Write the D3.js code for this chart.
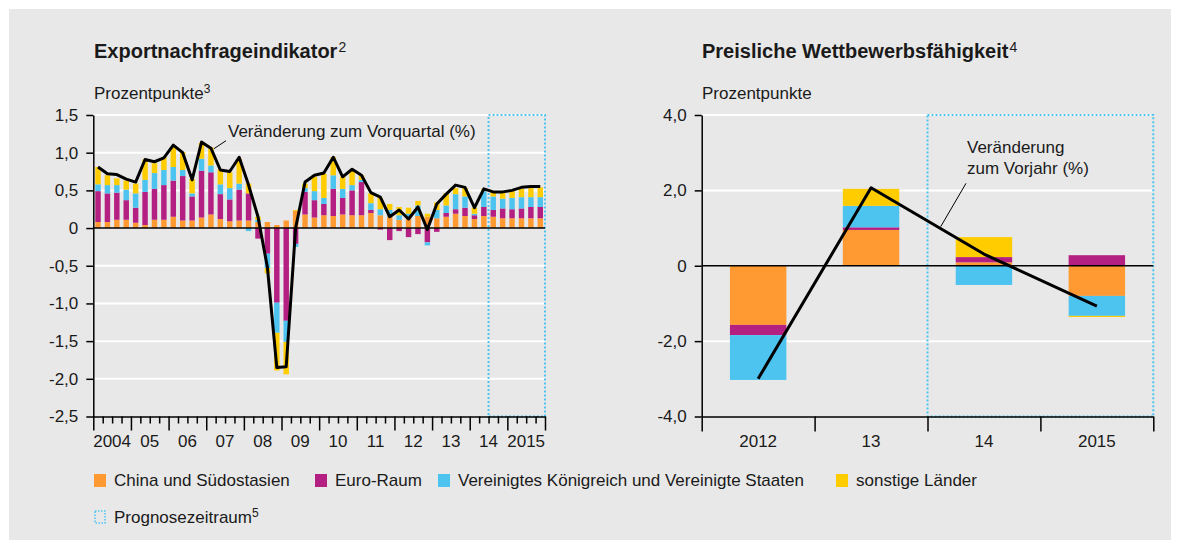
<!DOCTYPE html>
<html>
<head>
<meta charset="utf-8">
<script src="https://cdn.jsdelivr.net/npm/d3@7"></script>
<style>
body { margin: 0; background: #fff; }
svg text { font-family: "Liberation Sans", Arial, sans-serif; fill: #1a1a1a; }
.axis text { font-size: 17px; fill: #1a1a1a; }
.axis path, .axis line { stroke: #000; stroke-width: 1.5; }
</style>
</head>
<body>
<div id="chart"></div>
<script>
// Exportnachfrageindikator, Quartale 2004 bis 2015
var years = ["2004", "2005", "2006", "2007", "2008", "2009", "2010", "2011", "2012", "2013", "2014", "2015"];
var yearLabels = ["2004", "05", "06", "07", "08", "09", "10", "11", "12", "13", "14", "2015"];
var china = [0.08, 0.08, 0.11, 0.11, 0.07, 0.04, 0.11, 0.11, 0.15, 0.10, 0.10, 0.14,
             0.18, 0.12, 0.09, 0.10, 0.10, 0.08, 0.08, 0.04, 0.10, 0.23, 0.18, 0.14,
             0.17, 0.16, 0.18, 0.17, 0.17, 0.20, 0.17, 0.15, 0.11, 0.14, 0.16, 0.15,
             0.13, 0.15, 0.19, 0.16, 0.12, 0.16, 0.15, 0.13, 0.13, 0.13, 0.13, 0.13];
var euro = [0.41, 0.38, 0.36, 0.26, 0.20, 0.44, 0.41, 0.46, 0.48, 0.59, 0.32, 0.62,
            0.56, 0.33, 0.29, 0.41, 0.36, -0.14, -0.34, -0.99, -1.23, -0.21, 0.30, 0.23,
            0.15, 0.36, 0.22, 0.33, 0.44, 0.04, -0.02, -0.16, -0.04, -0.12, -0.08, -0.19,
            -0.05, 0.05, 0.06, 0.11, 0.05, 0.12, 0.09, 0.13, 0.12, 0.13, 0.15, 0.15];
var ukus = [0.09, 0.11, 0.10, 0.14, 0.19, 0.16, 0.21, 0.20, 0.18, 0.08, 0.04, 0.16,
            0.09, 0.13, 0.15, 0.08, -0.04, 0.03, -0.19, -0.40, -0.28, -0.04, 0.05, 0.12,
            0.08, 0.18, 0.12, 0.07, 0.03, 0.09, 0.08, 0.09, 0.06, 0.05, 0.14, -0.04,
            0.11, 0.10, 0.20, 0.15, 0.02, 0.21, 0.18, 0.13, 0.15, 0.15, 0.13, 0.13];
var other = [0.23, 0.13, 0.09, 0.12, 0.13, 0.27, 0.13, 0.17, 0.27, 0.24, 0.19, 0.21,
             0.24, 0.20, 0.21, 0.33, 0.13, 0.04, -0.07, -0.50, -0.43, 0.01, 0.06, 0.19,
             0.32, 0.24, 0.16, 0.19, 0.06, 0.13, 0.15, 0.08, 0.11, 0.08, 0.06, 0.04,
             0.10, 0.16, 0.08, 0.11, 0.08, 0.03, 0.07, 0.08, 0.09, 0.11, 0.12, 0.13];
var change = [0.81, 0.72, 0.71, 0.65, 0.61, 0.91, 0.88, 0.93, 1.10, 1.00, 0.64, 1.14,
              1.06, 0.77, 0.75, 0.94, 0.57, 0.15, -0.52, -1.85, -1.84, 0.00, 0.61, 0.70,
              0.73, 0.94, 0.68, 0.78, 0.70, 0.47, 0.41, 0.15, 0.24, 0.12, 0.28, -0.02,
              0.32, 0.45, 0.57, 0.54, 0.27, 0.52, 0.48, 0.48, 0.50, 0.54, 0.55, 0.55];
var leftTicks = [1.5, 1.0, 0.5, 0, -0.5, -1.0, -1.5, -2.0, -2.5];
var forecastStart = 42; // ab 2014 Q3

// Preisliche Wettbewerbsfaehigkeit, Jahre
var rYears = ["2012", "13", "14", "2015"];
var rChina = [-1.57, 0.95, 0.09, -0.80];
var rEuro = [-0.27, 0.07, 0.14, 0.28];
var rUkus = [-1.19, 0.57, -0.51, -0.53];
var rOther = [0.00, 0.45, 0.53, -0.03];
var rChange = [-3.00, 2.07, 0.31, -1.07];
var rightTicks = [4, 2, 0, -2, -4];
var rForecastStart = 2;

document.addEventListener("DOMContentLoaded", function(event) {

    var keys = ["china", "euro", "ukus", "other"];
    var colors = { china: "#ff9a33", euro: "#b41f82", ukus: "#4dc4f0", other: "#ffcc00" };
    var legendNames = { china: "China und Südostasien", euro: "Euro-Raum",
        ukus: "Vereinigtes Königreich und Vereinigte Staaten", other: "sonstige Länder" };
    var plotTop = 115, plotBottom = 416.5;

    var fmt = function(d) {
        return d === 0 ? "0" : d3.format(".1f")(d).replace(".", ",").replace("\u2212", "-");
    };

    var svg = d3.select("#chart").append("svg")
        .attr("width", 1180)
        .attr("height", 549);

    svg.append("rect")
        .attr("x", 9).attr("y", 9)
        .attr("width", 1162).attr("height", 531)
        .attr("fill", "#e8e8e8");

    var stack = d3.stack().keys(keys).offset(d3.stackOffsetDiverging);

    // ---------- left chart ----------
    var quarters = [];
    years.forEach(function(y) {
        [1, 2, 3, 4].forEach(function(q) { quarters.push(y + "Q" + q); });
    });
    var lRows = quarters.map(function(q, i) {
        return { q: q, china: china[i], euro: euro[i], ukus: ukus[i], other: other[i] };
    });

    var lx = d3.scaleBand().domain(quarters).range([93.3, 545])
        .paddingInner(0.42).paddingOuter(0.21);
    var lxi = d3.scaleLinear().domain([0, quarters.length]).range([93.3, 545]);
    var ly = d3.scaleLinear().domain([-2.5, 1.5]).range([plotBottom, plotTop]);

    var left = svg.append("g");

    left.selectAll(".grid")
        .data(leftTicks.filter(function(d) { return d !== 0 && d !== -2.5; }))
        .enter().append("line")
        .attr("x1", 93.3).attr("x2", 545)
        .attr("y1", function(d) { return ly(d); })
        .attr("y2", function(d) { return ly(d); })
        .attr("stroke", "#fff").attr("stroke-width", 2);

    left.append("rect")
        .attr("x", lxi(forecastStart))
        .attr("y", plotTop)
        .attr("width", 545 - lxi(forecastStart))
        .attr("height", plotBottom - plotTop)
        .attr("fill", "none")
        .attr("stroke", "#4dc4f0").attr("stroke-width", 2)
        .attr("stroke-dasharray", "2,2");

    left.append("g").selectAll("g")
        .data(stack(lRows))
        .enter().append("g")
        .attr("fill", function(d) { return colors[d.key]; })
        .selectAll("rect")
        .data(function(d) { return d; })
        .enter().append("rect")
        .attr("x", function(d) { return lx(d.data.q); })
        .attr("y", function(d) { return ly(d[1]); })
        .attr("width", lx.bandwidth())
        .attr("height", function(d) { return ly(d[0]) - ly(d[1]); });

    left.append("line")
        .attr("x1", 93.3).attr("x2", 545)
        .attr("y1", ly(0)).attr("y2", ly(0))
        .attr("stroke", "#000").attr("stroke-width", 1.5);

    var lLine = d3.line()
        .x(function(d, i) { return lx(quarters[i]) + lx.bandwidth() / 2; })
        .y(function(d) { return ly(d); });

    left.append("path")
        .datum(change)
        .attr("fill", "none")
        .attr("stroke", "#000")
        .attr("stroke-width", 3)
        .attr("stroke-linejoin", "round")
        .attr("d", lLine);

    left.append("g")
        .attr("class", "axis")
        .attr("transform", "translate(93.3,0)")
        .call(d3.axisLeft(ly).tickValues(leftTicks).tickSize(7).tickPadding(8)
            .tickSizeOuter(0).tickFormat(fmt));

    var lxAxis = left.append("g")
        .attr("class", "axis")
        .attr("transform", "translate(0," + plotBottom + ")")
        .call(d3.axisBottom(lxi).tickValues(d3.range(0, quarters.length + 1))
            .tickSize(7).tickSizeOuter(0).tickFormat(""));
    lxAxis.selectAll(".tick line")
        .attr("y2", function(d) { return d % 4 === 0 ? 14 : 7; });

    left.selectAll(".year")
        .data(yearLabels)
        .enter().append("text")
        .attr("x", function(d, i) { return lxi(i * 4 + 2); })
        .attr("y", 447)
        .attr("text-anchor", "middle")
        .style("font-size", "17px")
        .text(function(d) { return d; });

    var t1 = left.append("text").attr("x", 94).attr("y", 58)
        .style("font-size", "20px").style("font-weight", "bold")
        .text("Exportnachfrageindikator");
    t1.append("tspan").attr("dx", 1).attr("dy", -6).style("font-size", "14px")
        .style("font-weight", "normal").text("2");

    var u1 = left.append("text").attr("x", 94).attr("y", 99)
        .style("font-size", "17px").text("Prozentpunkte");
    u1.append("tspan").attr("dy", -6).style("font-size", "12px").text("3");

    left.append("text").attr("x", 228).attr("y", 137)
        .style("font-size", "17px")
        .text("Veränderung zum Vorquartal (%)");
    left.append("line")
        .attr("x1", 226).attr("y1", 140.7)
        .attr("x2", 214).attr("y2", 148.7)
        .attr("stroke", "#000").attr("stroke-width", 1);

    // ---------- right chart ----------
    var rRows = rYears.map(function(y, i) {
        return { q: y, china: rChina[i], euro: rEuro[i], ukus: rUkus[i], other: rOther[i] };
    });

    var rx = d3.scaleBand().domain(rYears).range([701.7, 1153.3])
        .paddingInner(0.5).paddingOuter(0.25);
    var rxi = d3.scaleLinear().domain([0, rYears.length]).range([701.7, 1153.3]);
    var ry = d3.scaleLinear().domain([-4, 4]).range([plotBottom, plotTop]);

    var right = svg.append("g");

    right.selectAll(".grid")
        .data(rightTicks.filter(function(d) { return d !== 0 && d !== -4; }))
        .enter().append("line")
        .attr("x1", 701.7).attr("x2", 1153.3)
        .attr("y1", function(d) { return ry(d); })
        .attr("y2", function(d) { return ry(d); })
        .attr("stroke", "#fff").attr("stroke-width", 2);

    right.append("rect")
        .attr("x", rxi(rForecastStart))
        .attr("y", plotTop)
        .attr("width", 1153.3 - rxi(rForecastStart))
        .attr("height", plotBottom - plotTop)
        .attr("fill", "none")
        .attr("stroke", "#4dc4f0").attr("stroke-width", 2)
        .attr("stroke-dasharray", "2,2");

    right.append("g").selectAll("g")
        .data(stack(rRows))
        .enter().append("g")
        .attr("fill", function(d) { return colors[d.key]; })
        .selectAll("rect")
        .data(function(d) { return d; })
        .enter().append("rect")
        .attr("x", function(d) { return rx(d.data.q); })
        .attr("y", function(d) { return ry(d[1]); })
        .attr("width", rx.bandwidth())
        .attr("height", function(d) { return ry(d[0]) - ry(d[1]); });

    right.append("line")
        .attr("x1", 701.7).attr("x2", 1153.3)
        .attr("y1", ry(0)).attr("y2", ry(0))
        .attr("stroke", "#000").attr("stroke-width", 1.5);

    var rLine = d3.line()
        .x(function(d, i) { return rx(rYears[i]) + rx.bandwidth() / 2; })
        .y(function(d) { return ry(d); });

    right.append("path")
        .datum(rChange)
        .attr("fill", "none")
        .attr("stroke", "#000")
        .attr("stroke-width", 3)
        .attr("stroke-linejoin", "round")
        .attr("d", rLine);

    right.append("g")
        .attr("class", "axis")
        .attr("transform", "translate(701.7,0)")
        .call(d3.axisLeft(ry).tickValues(rightTicks).tickSize(7).tickPadding(8)
            .tickSizeOuter(0).tickFormat(fmt));

    right.append("g")
        .attr("class", "axis")
        .attr("transform", "translate(0," + plotBottom + ")")
        .call(d3.axisBottom(rxi).tickValues(d3.range(0, rYears.length + 1))
            .tickSize(15).tickSizeOuter(0).tickFormat(""));

    right.selectAll(".year")
        .data(rYears)
        .enter().append("text")
        .attr("x", function(d) { return rx(d) + rx.bandwidth() / 2; })
        .attr("y", 447)
        .attr("text-anchor", "middle")
        .style("font-size", "17px")
        .text(function(d) { return d; });

    var t2 = right.append("text").attr("x", 702).attr("y", 58)
        .style("font-size", "20px").style("font-weight", "bold")
        .text("Preisliche Wettbewerbsfähigkeit");
    t2.append("tspan").attr("dx", 1).attr("dy", -6).style("font-size", "14px")
        .style("font-weight", "normal").text("4");

    right.append("text").attr("x", 702).attr("y", 99)
        .style("font-size", "17px").text("Prozentpunkte");

    right.append("text").attr("x", 967).attr("y", 153)
        .style("font-size", "17px").text("Veränderung");
    right.append("text").attr("x", 967).attr("y", 174)
        .style("font-size", "17px").text("zum Vorjahr (%)");
    right.append("line")
        .attr("x1", 966).attr("y1", 183.3)
        .attr("x2", 940.7).attr("y2", 226.7)
        .attr("stroke", "#000").attr("stroke-width", 1);

    // ---------- legend ----------
    var legendX = [94, 315, 438, 836];
    keys.forEach(function(k, i) {
        svg.append("rect")
            .attr("x", legendX[i]).attr("y", 474)
            .attr("width", 12).attr("height", 13)
            .attr("fill", colors[k]);
        svg.append("text")
            .attr("x", legendX[i] + 20).attr("y", 486)
            .style("font-size", "17px")
            .text(legendNames[k]);
    });

    svg.append("rect")
        .attr("x", 95).attr("y", 511)
        .attr("width", 10).attr("height", 12)
        .attr("fill", "none")
        .attr("stroke", "#4dc4f0").attr("stroke-width", 1.5)
        .attr("stroke-dasharray", "1.5,1.5");
    var p = svg.append("text")
        .attr("x", 114).attr("y", 523)
        .style("font-size", "17px")
        .text("Prognosezeitraum");
    p.append("tspan").attr("dy", -6).style("font-size", "12px").text("5");

});
</script>
</body>
</html>
